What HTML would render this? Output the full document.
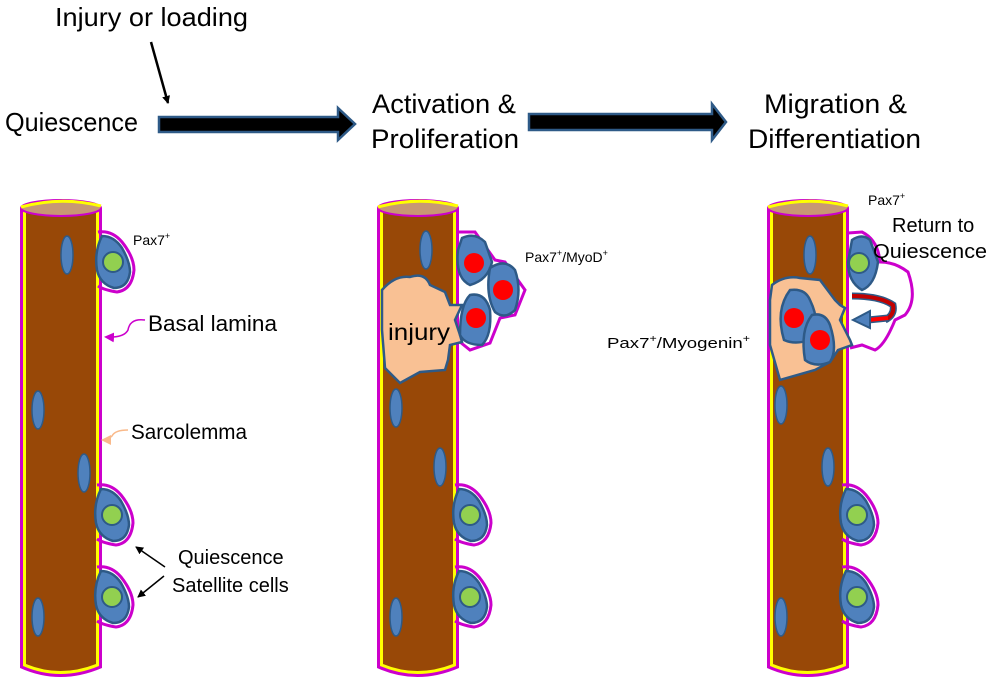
<!DOCTYPE html>
<html><head><meta charset="utf-8"><style>
html,body{margin:0;padding:0;background:#fff;}
svg{display:block;font-family:"Liberation Sans",sans-serif;}
</style></head><body>
<svg width="992" height="687" viewBox="0 0 992 687" xmlns="http://www.w3.org/2000/svg">
<defs>
<marker id="ah" markerWidth="8" markerHeight="8" refX="7" refY="4" orient="auto" markerUnits="userSpaceOnUse"><path d="M0,0 L8,4 L0,8 z" fill="#000"/></marker>
<marker id="mh" markerWidth="10" markerHeight="10" refX="8" refY="5" orient="auto" markerUnits="userSpaceOnUse"><path d="M0,0 L10,5 L0,10 z" fill="#c0c"/></marker>
<marker id="ph" markerWidth="10" markerHeight="10" refX="8" refY="5" orient="auto" markerUnits="userSpaceOnUse"><path d="M0,0 L10,5 L0,10 z" fill="#f9b98a"/></marker>
<g id="fiber">
<path d="M20,208 L20,668 Q60,686 102,668 L102,208 Z" fill="#c0c"/>
<path d="M23,208 L23,666 Q60,682 99,666 L99,208 Z" fill="#ff0"/>
<path d="M26,208 L26,664 Q60,678 96,664 L96,208 Z" fill="#984807"/>
<ellipse cx="61" cy="208" rx="40" ry="8" fill="#c79874" stroke="#c0c" stroke-width="2"/>
<path d="M21,207 Q61,196 101,206" fill="none" stroke="#ff0" stroke-width="3"/>
</g>
<g id="sat">
<path d="M-14,-30 Q0,-32 10,-20 Q22,-5 22,8 Q20,28 5,30 Q-8,28 -14,24" fill="none" stroke="#c0c" stroke-width="3"/>
<path d="M-10,-26 Q2,-26 10,-14 Q18,0 18,10 Q16,26 2,26 Q-12,22 -15,8 Q-18,-10 -10,-26 Z" fill="#4f81bd" stroke="#2e5a87" stroke-width="2.5"/>
</g>
<g id="nuc"><ellipse cx="0" cy="0" rx="6" ry="19" fill="#4f81bd" stroke="#2e5a87" stroke-width="1.5"/></g>
</defs>

<!-- top labels -->
<text x="55" y="26" font-size="26" textLength="193" lengthAdjust="spacingAndGlyphs">Injury or loading</text>
<line x1="151" y1="42" x2="168" y2="103" stroke="#000" stroke-width="2.5" marker-end="url(#ah)"/>
<text x="5" y="131" font-size="26" textLength="133" lengthAdjust="spacingAndGlyphs">Quiescence</text>
<path d="M159,117 L338,117 L338,108 L355,124 L338,140 L338,132 L159,132 Z" fill="#000" stroke="#2e5a87" stroke-width="2.5"/>
<path d="M529,114 L712,114 L712,104 L726,122 L712,140 L712,130 L529,130 Z" fill="#000" stroke="#2e5a87" stroke-width="2.5"/>
<text x="372" y="113" font-size="27" textLength="144" lengthAdjust="spacingAndGlyphs">Activation &amp;</text>
<text x="371" y="148" font-size="27" textLength="148" lengthAdjust="spacingAndGlyphs">Proliferation</text>
<text x="764" y="113" font-size="27" textLength="143" lengthAdjust="spacingAndGlyphs">Migration &amp;</text>
<text x="748" y="148" font-size="27" textLength="173" lengthAdjust="spacingAndGlyphs">Differentiation</text>

<!-- fiber 1 -->
<use href="#fiber"/>
<use href="#nuc" x="67" y="255"/><use href="#nuc" x="38" y="410"/><use href="#nuc" x="84" y="473"/><use href="#nuc" x="38" y="617"/>
<use href="#sat" x="112" y="262"/><circle cx="113" cy="262" r="10" fill="#92d050" stroke="#2e5a87" stroke-width="2"/>
<use href="#sat" x="111" y="515"/><circle cx="112" cy="515" r="10" fill="#92d050" stroke="#2e5a87" stroke-width="2"/>
<use href="#sat" x="111" y="597"/><circle cx="112" cy="597" r="10" fill="#92d050" stroke="#2e5a87" stroke-width="2"/>
<text x="133" y="245" font-size="14">Pax7<tspan font-size="9" dy="-6">+</tspan></text>
<text x="148" y="331" font-size="22" textLength="129" lengthAdjust="spacingAndGlyphs">Basal lamina</text>
<path d="M145,320 Q130,318 128,330 Q124,338 106,337" fill="none" stroke="#c0c" stroke-width="1.5" marker-end="url(#mh)"/>
<text x="131" y="439" font-size="21" textLength="116" lengthAdjust="spacingAndGlyphs">Sarcolemma</text>
<path d="M128,430 Q115,430 112,436 Q108,440 103,440" fill="none" stroke="#f9b98a" stroke-width="1.5" marker-end="url(#ph)"/>
<text x="178" y="564" font-size="20">Quiescence</text>
<text x="172" y="592" font-size="20">Satellite cells</text>
<line x1="165" y1="567" x2="136" y2="547" stroke="#000" stroke-width="1.5" marker-end="url(#ah)"/>
<line x1="164" y1="576" x2="138" y2="597" stroke="#000" stroke-width="1.5" marker-end="url(#ah)"/>

<!-- fiber 2 -->
<use href="#fiber" x="357"/>
<use href="#nuc" x="426" y="250"/><use href="#nuc" x="396" y="408"/><use href="#nuc" x="440" y="467"/><use href="#nuc" x="396" y="617"/>
<use href="#sat" x="469" y="515"/><circle cx="470" cy="515" r="10" fill="#92d050" stroke="#2e5a87" stroke-width="2"/>
<use href="#sat" x="469" y="597"/><circle cx="470" cy="597" r="10" fill="#92d050" stroke="#2e5a87" stroke-width="2"/>
<path d="M458,232 L475,232 L495,260 L505,262 L525,290 L515,315 L500,318 L490,343 L470,350 L460,342" fill="none" stroke="#c0c" stroke-width="3"/>
<path d="M382,290 Q395,275 410,277 Q425,272 430,285 L445,292 L450,305 L462,305 L455,320 L460,335 L462,342 L450,345 L448,360 L445,370 L420,372 L400,383 L385,368 L382,330 Z" fill="#f9c194" stroke="#2e5a87" stroke-width="2.5"/>
<path d="M462,238 Q475,232 485,242 L492,262 Q488,280 470,285 Q455,278 458,250 Z" fill="#4f81bd" stroke="#2e5a87" stroke-width="2.5"/>
<path d="M490,268 Q505,258 515,270 Q522,290 515,310 Q505,320 495,312 Q485,295 490,268 Z" fill="#4f81bd" stroke="#2e5a87" stroke-width="2.5"/>
<path d="M470,295 Q485,292 490,310 Q492,335 482,345 Q465,345 460,335 Q460,305 470,295 Z" fill="#4f81bd" stroke="#2e5a87" stroke-width="2.5"/>
<circle cx="474" cy="263" r="10" fill="#f00"/><circle cx="503" cy="290" r="10" fill="#f00"/><circle cx="476" cy="318" r="10" fill="#f00"/>
<text x="419" y="340" font-size="23" text-anchor="middle" textLength="62" lengthAdjust="spacingAndGlyphs">injury</text>
<text x="525" y="262" font-size="14">Pax7<tspan font-size="9" dy="-6">+</tspan><tspan dy="6">/MyoD</tspan><tspan font-size="9" dy="-6">+</tspan></text>

<!-- fiber 3 -->
<use href="#fiber" x="747"/>
<use href="#nuc" x="810" y="255"/><use href="#nuc" x="781" y="405"/><use href="#nuc" x="828" y="467"/><use href="#nuc" x="781" y="617"/>
<use href="#sat" x="856" y="515"/><circle cx="857" cy="515" r="10" fill="#92d050" stroke="#2e5a87" stroke-width="2"/>
<use href="#sat" x="856" y="597"/><circle cx="857" cy="597" r="10" fill="#92d050" stroke="#2e5a87" stroke-width="2"/>
<path d="M848,233 L862,232 Q878,240 880,262 Q895,262 908,272 Q918,300 905,315 L895,320 Q885,345 875,350 L862,345 L850,348" fill="none" stroke="#c0c" stroke-width="3"/>
<path d="M852,240 Q862,233 870,240 L878,262 Q875,285 862,290 Q848,282 848,262 Z" fill="#4f81bd" stroke="#2e5a87" stroke-width="2.5"/>
<circle cx="859" cy="263" r="10" fill="#92d050" stroke="#2e5a87" stroke-width="2"/>
<path d="M772,285 Q785,275 800,278 L820,280 L835,300 L840,305 L845,308 L840,320 L850,340 L852,345 L838,350 L830,362 L815,370 L780,380 L770,345 L770,300 Z" fill="#f9c194" stroke="#2e5a87" stroke-width="2.5"/>
<path d="M790,290 Q805,288 810,300 Q822,325 810,340 Q795,345 784,340 Q775,310 790,290 Z" fill="#4f81bd" stroke="#2e5a87" stroke-width="2.5"/>
<path d="M812,315 Q825,312 830,325 Q838,350 830,362 Q815,368 805,360 Q800,330 812,315 Z" fill="#4f81bd" stroke="#2e5a87" stroke-width="2.5"/>
<circle cx="794" cy="318" r="10" fill="#f00"/><circle cx="820" cy="340" r="10" fill="#f00"/>
<path d="M852,296 Q880,296 893,305 Q895,315 885,320" fill="none" stroke="#2e5a87" stroke-width="7"/>
<path d="M852,296 Q880,296 893,305 Q895,315 885,320" fill="none" stroke="#c00000" stroke-width="4"/>
<path d="M888,318 L868,320" stroke="#2e5a87" stroke-width="7"/>
<path d="M888,318 L868,320" stroke="#f00" stroke-width="4"/>
<path d="M870,311 L853,320 L870,328 Z" fill="#4f81bd" stroke="#2e5a87" stroke-width="2"/>
<text x="868" y="205" font-size="14">Pax7<tspan font-size="9" dy="-6">+</tspan></text>
<text x="892" y="232" font-size="20">Return to</text>
<text x="873" y="258" font-size="20" textLength="114" lengthAdjust="spacingAndGlyphs">Quiescence</text>
<text x="607" y="348" font-size="15" textLength="143" lengthAdjust="spacingAndGlyphs">Pax7<tspan font-size="10" dy="-6">+</tspan><tspan dy="6">/Myogenin</tspan><tspan font-size="10" dy="-6">+</tspan></text>
</svg>
</body></html>
